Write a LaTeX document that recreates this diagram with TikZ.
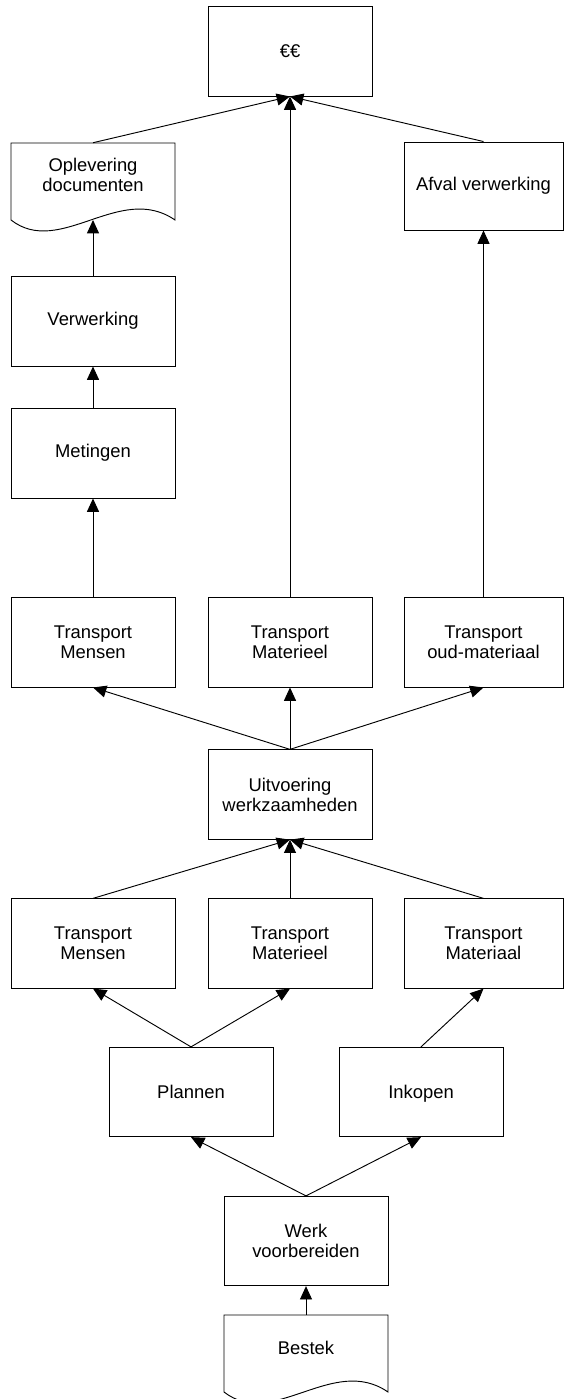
\documentclass[tikz,border=0pt]{standalone}
\usepackage{fontspec}
\setmainfont{Liberation Sans}
\usetikzlibrary{arrows.meta}
\begin{document}
\begin{tikzpicture}[x=0.75pt,y=-0.75pt,
  txt/.style={align=center, inner sep=0pt, font=\fontsize{13.8}{15}\selectfont},
  box/.style={txt, draw, line width=0.7pt, minimum width=123pt, minimum height=67pt},
  rbox/.style={box, minimum width=119.25pt},
  doc/.style={txt, minimum width=123pt},
  arr/.style={-{Triangle[length=10pt,width=9pt]}, line width=0.7pt},
  docline/.style={line width=0.7pt}]
\useasboundingbox (0,0) rectangle (564,1399);

% nodes
\node[box, minimum height=67.5pt] (euro) at (290,51) {€€};
\node[doc, minimum height=48pt] (oplev) at (93,175) {Oplevering\\documenten};
\draw[docline] (11,143) -- (175,143) -- (175,220) .. controls (120,182) and (60,258) .. (11,220) -- cycle;
\coordinate (oplevb) at (93,220);
\node[rbox, minimum height=66pt] (afval) at (483.5,186) {Afval verwerking};
\node[box, minimum height=67.5pt] (verw) at (93,321) {Verwerking};
\node[box, minimum height=67.5pt] (met) at (93,453) {Metingen};

\node[box, minimum height=67.5pt] (tm1) at (93,642) {Transport\\Mensen};
\node[box, minimum height=67.5pt] (tmat1) at (290,642) {Transport\\Materieel};
\node[rbox, minimum height=67.5pt] (toud) at (483.5,642) {Transport\\oud-materiaal};

\node[box] (uitv) at (290,794.5) {Uitvoering\\werkzaamheden};

\node[box] (tm2) at (93,943.5) {Transport\\Mensen};
\node[box] (tmat2) at (290,943.5) {Transport\\Materieel};
\node[rbox] (tmatl) at (483.5,943.5) {Transport\\Materiaal};

\node[box] (plan) at (191,1092) {Plannen};
\node[box, text depth=0pt] (inkoop) at (421,1092) {Inkopen};

\node[box] (werk) at (306,1241) {Werk\\voorbereiden};

\node[doc, minimum height=49.5pt] (bestek) at (306,1348) {Bestek};
\draw[docline] (224,1315) -- (388,1315) -- (388,1392) .. controls (333,1354) and (273,1430) .. (224,1392) -- cycle;

% connectors
\draw[arr] (oplev.north) -- (euro.south);
\draw[arr] (tmat1.north) -- (euro.south);
\draw[arr] (afval.north) -- (euro.south);
\draw[arr] (verw.north) -- (oplevb);
\draw[arr] (met.north) -- (verw.south);
\draw[arr] (tm1.north) -- (met.south);
\draw[arr] (toud.north) -- (afval.south);

\draw[arr] (uitv.north) -- (tm1.south);
\draw[arr] (uitv.north) -- (tmat1.south);
\draw[arr] (uitv.north) -- (toud.south);

\draw[arr] (tm2.north) -- (uitv.south);
\draw[arr] (tmat2.north) -- (uitv.south);
\draw[arr] (tmatl.north) -- (uitv.south);

\draw[arr] (plan.north) -- (tm2.south);
\draw[arr] (plan.north) -- (tmat2.south);
\draw[arr] (inkoop.north) -- (tmatl.south);

\draw[arr] (werk.north) -- (plan.south);
\draw[arr] (werk.north) -- (inkoop.south);

\draw[arr] (bestek.north) -- (werk.south);
\end{tikzpicture}
\end{document}
